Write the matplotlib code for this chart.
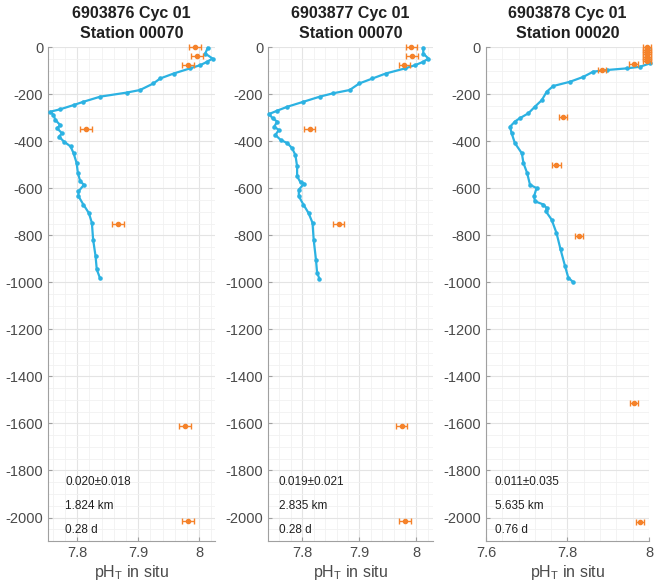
import matplotlib.pyplot as plt
from matplotlib.ticker import AutoMinorLocator, MultipleLocator

plt.rcParams['font.family'] = ['Liberation Sans', 'DejaVu Sans']
plt.rcParams['axes.unicode_minus'] = False

titles = ['6903876 Cyc 01\nStation 00070',
          '6903877 Cyc 01\nStation 00070',
          '6903878 Cyc 01\nStation 00020']
stats = [['0.020\u00b10.018', '1.824 km', '0.28 d'],
         ['0.019\u00b10.021', '2.835 km', '0.28 d'],
         ['0.011\u00b10.035', '5.635 km', '0.76 d']]

# float profiles (pH, depth)
ph1 = [8.014, 8.010, 8.022, 8.013, 8.002, 7.985, 7.958, 7.936, 7.925, 7.903, 7.881,
       7.838, 7.810, 7.794, 7.772, 7.756, 7.761, 7.764, 7.772, 7.767, 7.775, 7.770,
       7.778, 7.789, 7.794, 7.799, 7.801, 7.805, 7.811, 7.802, 7.802, 7.810, 7.819,
       7.824, 7.826, 7.830, 7.832, 7.837]
z1 = [-3, -27, -48, -62, -76, -90, -112, -133, -154, -182, -193,
      -210, -232, -246, -264, -274, -288, -309, -331, -345, -366, -380,
      -401, -422, -451, -493, -535, -571, -585, -613, -634, -669, -705,
      -747, -818, -888, -945, -980]

ph2 = [8.012, 8.012, 8.021, 8.012, 7.998, 7.980, 7.946, 7.923, 7.900, 7.883, 7.854,
       7.831, 7.802, 7.774, 7.756, 7.742, 7.748, 7.756, 7.751, 7.759, 7.753, 7.762,
       7.774, 7.782, 7.788, 7.791, 7.791, 7.797, 7.803, 7.794, 7.794, 7.802, 7.811,
       7.818, 7.820, 7.824, 7.826, 7.830]
z2 = [-3, -27, -48, -62, -76, -90, -112, -133, -154, -182, -196,
      -210, -232, -253, -270, -284, -302, -316, -338, -352, -373, -394,
      -408, -429, -458, -507, -549, -575, -580, -606, -634, -669, -705,
      -747, -818, -903, -959, -984]

ph3 = [7.998, 7.998, 8.002, 7.978, 7.945, 7.896, 7.863, 7.839, 7.806, 7.765, 7.749,
       7.737, 7.720, 7.704, 7.683, 7.671, 7.659, 7.663, 7.671, 7.688, 7.692, 7.701,
       7.708, 7.724, 7.718, 7.720, 7.741, 7.749, 7.747, 7.761, 7.773, 7.783, 7.794,
       7.802, 7.814]
z3 = [-3, -48, -69, -83, -90, -97, -104, -126, -147, -165, -189,
      -225, -253, -281, -302, -316, -338, -366, -408, -451, -493, -535,
      -585, -599, -634, -655, -669, -684, -698, -733, -790, -860, -931,
      -980, -999]

# bottle samples (pH, depth)
bph1 = [7.993, 7.996, 7.982, 7.815, 7.867, 7.977, 7.982]
bz1 = [0, -37, -76, -349, -751, -1609, -2014]
bph2 = [7.991, 7.992, 7.979, 7.813, 7.864, 7.974, 7.980]
bz2 = [0, -37, -76, -349, -751, -1609, -2014]
bph3 = [7.996, 7.995, 7.996, 7.995, 7.996, 7.995, 7.996, 7.962, 7.884, 7.788,
        7.773, 7.829, 7.964, 7.978]
bz3 = [0, -10, -20, -30, -40, -50, -60, -72, -97, -298, -500, -801, -1513, -2018]
berr = 0.01

profiles = [(ph1, z1), (ph2, z2), (ph3, z3)]
bottles = [(bph1, bz1), (bph2, bz2), (bph3, bz3)]
xlims = [(7.752, 8.026), (7.74, 8.029), (7.6, 8.0)]
xticks = [[7.8, 7.9, 8], [7.8, 7.9, 8], [7.6, 7.8, 8]]
xticklabels = [['7.8', '7.9', '8'], ['7.8', '7.9', '8'], ['7.6', '7.8', '8']]
text_x = [7.78, 7.759, 7.622]
text_y = [-1848, -1953, -2051]

blue = '#2cb2e2'
orange = '#f5822a'
grey = '#4a4a4a'

fig = plt.figure(figsize=(6.64, 5.83), dpi=100)
lefts = [0.0723, 0.4036, 0.7319]
widths = [0.2515, 0.2485, 0.2455]

for i in range(3):
    ax = fig.add_axes([lefts[i], 0.072, widths[i], 0.847])
    ph, z = profiles[i]
    ax.plot(ph, z, '.-', color=blue, ms=4.5, lw=1.6, zorder=3, clip_on=False)
    bph, bz = bottles[i]
    eb = ax.errorbar(bph, bz, xerr=berr, fmt='o', color=orange, ms=3,
                     elinewidth=1, capsize=2, capthick=1, zorder=4)
    for art in eb.get_children():
        art.set_clip_on(False)
    for j, s in enumerate(stats[i]):
        ax.text(text_x[i], text_y[j], s, fontsize=8.5,
                color='#202020', va='center', ha='left')
    ax.set_xlim(xlims[i])
    ax.set_ylim(-2100, 0)
    ax.set_xticks(xticks[i])
    ax.set_xticklabels(xticklabels[i])
    ax.yaxis.set_major_locator(MultipleLocator(200))
    ax.xaxis.set_minor_locator(AutoMinorLocator(5))
    ax.yaxis.set_minor_locator(AutoMinorLocator(4))
    ax.grid(True, which='major', color='#e4e4e4', lw=0.8)
    ax.grid(True, which='minor', color='#f1f1f1', lw=0.6)
    ax.set_axisbelow(True)
    for side in ['top', 'right']:
        ax.spines[side].set_visible(False)
    for side in ['left', 'bottom']:
        ax.spines[side].set_color('#a0a0a0')
    ax.tick_params(which='both', direction='in', colors='#a0a0a0',
                   labelcolor=grey, labelsize=10.5, length=3)
    ax.tick_params(which='minor', length=0)
    ax.set_title(titles[i], fontsize=11.5, fontweight='bold', color='#202020', pad=7,
                 linespacing=1.35)
    ax.set_xlabel('pH$_\\mathregular{T}$ in situ', fontsize=11.5, color=grey, labelpad=2)

fig.savefig('out.png', dpi=100)
